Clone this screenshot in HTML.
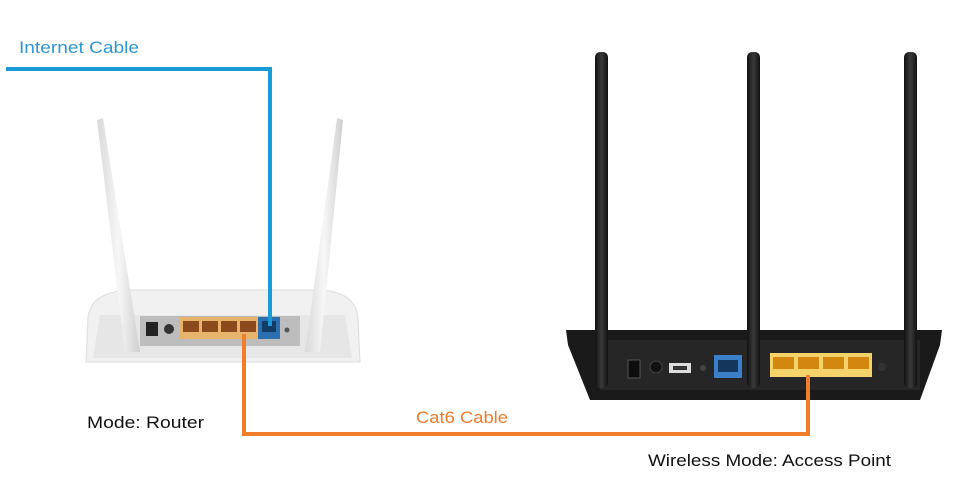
<!DOCTYPE html>
<html><head><style>html,body{margin:0;padding:0;background:#fff;}svg{display:block}</style></head>
<body>
<svg width="975" height="494" viewBox="0 0 975 494" xmlns="http://www.w3.org/2000/svg" font-family="Liberation Sans, sans-serif">
<defs>
<linearGradient id="ant" x1="0" x2="1"><stop offset="0" stop-color="#d8d8d8"/><stop offset="0.5" stop-color="#f7f7f7"/><stop offset="1" stop-color="#cfcfcf"/></linearGradient>
<linearGradient id="bant" x1="0" x2="1"><stop offset="0" stop-color="#111"/><stop offset="0.5" stop-color="#3a3a3a"/><stop offset="1" stop-color="#111"/></linearGradient>
</defs>
<!-- left router -->
<path d="M88,318 Q90,292 130,290 L320,290 Q356,292 358,318 L360,362 L86,362 Z" fill="#f1f1f1" stroke="#dcdcdc"/>
<path d="M100,315 L345,315 L352,358 L93,358 Z" fill="#e6e6e6"/>
<rect x="140" y="316" width="160" height="30" fill="#bdbdbd"/>
<rect x="146" y="322" width="12" height="14" fill="#222"/>
<circle cx="169" cy="329" r="5" fill="#333"/>
<rect x="180" y="317" width="77" height="22" fill="#e8b36a"/>
<rect x="183" y="321" width="16" height="11" fill="#8a4a1c"/>
<rect x="202" y="321" width="16" height="11" fill="#8a4a1c"/>
<rect x="221" y="321" width="16" height="11" fill="#8a4a1c"/>
<rect x="240" y="321" width="16" height="11" fill="#8a4a1c"/>
<rect x="258" y="317" width="22" height="22" fill="#2b6fb0"/>
<rect x="262" y="321" width="14" height="11" fill="#123b66"/>
<circle cx="287" cy="330" r="2.5" fill="#555"/>
<polygon points="97,120 103,118 140,352 125,352" fill="url(#ant)"/>
<polygon points="337,118 343,120 320,352 305,352" fill="url(#ant)"/>
<!-- right router -->
<path d="M566,330 L942,330 L940,345 L920,400 L590,400 L568,345 Z" fill="#1a1a1a"/>
<rect x="600" y="340" width="320" height="50" fill="#262626"/>
<rect x="628" y="360" width="12" height="18" fill="#0d0d0d" stroke="#555"/>
<circle cx="656" cy="367" r="6" fill="#111" stroke="#444"/>
<rect x="669" y="363" width="22" height="10" fill="#ddd"/>
<rect x="673" y="366" width="14" height="4" fill="#333"/>
<circle cx="703" cy="368" r="3" fill="#444"/>
<rect x="714" y="355" width="28" height="23" fill="#3a7fc8"/>
<rect x="718" y="360" width="20" height="12" fill="#14355c"/>
<rect x="770" y="353" width="102" height="24" fill="#f3d36a"/>
<rect x="773" y="357" width="21" height="12" fill="#d4870f"/>
<rect x="798" y="357" width="21" height="12" fill="#d4870f"/>
<rect x="823" y="357" width="21" height="12" fill="#d4870f"/>
<rect x="848" y="357" width="21" height="12" fill="#d4870f"/>
<circle cx="882" cy="367" r="4" fill="#333"/>
<rect x="595" y="52" width="13" height="336" rx="5" fill="url(#bant)"/>
<rect x="747" y="52" width="13" height="336" rx="5" fill="url(#bant)"/>
<rect x="904" y="52" width="13" height="336" rx="5" fill="url(#bant)"/>
<!-- cables -->
<polyline points="6,69 270,69 270,326" fill="none" stroke="#1a9ad6" stroke-width="4"/>
<polyline points="244,334 244,434 808,434 808,375" fill="none" stroke="#f07d2c" stroke-width="4"/>
<!-- labels -->
<text x="19" y="53" font-size="17" fill="#2e97cf" textLength="120" lengthAdjust="spacingAndGlyphs">Internet Cable</text>
<text x="87" y="428" font-size="17" fill="#111" textLength="117" lengthAdjust="spacingAndGlyphs">Mode: Router</text>
<text x="416" y="423" font-size="17" fill="#ef7b2c" textLength="92" lengthAdjust="spacingAndGlyphs">Cat6 Cable</text>
<text x="648" y="466" font-size="17" fill="#111" textLength="243" lengthAdjust="spacingAndGlyphs">Wireless Mode: Access Point</text>
</svg>
</body></html>
